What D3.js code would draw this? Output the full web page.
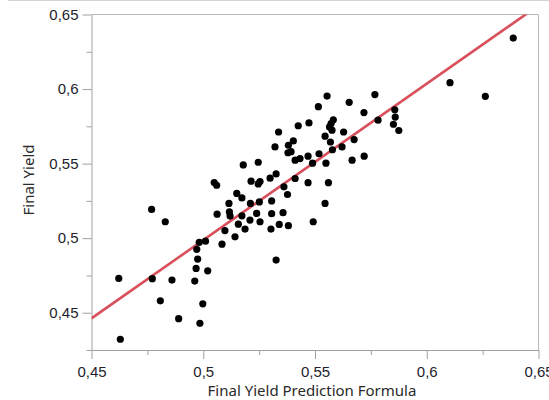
<!DOCTYPE html>
<html>
<head>
<meta charset="utf-8">
<script src="https://cdn.jsdelivr.net/npm/d3@7"></script>
<style>
  body { margin: 0; background: #fff; }
  svg { display: block; font-family: "Noto Sans", "Open Sans", sans-serif; }
</style>
</head>
<body>
<div id="chart"></div>
<script>
var predicted = [0.4629, 0.4622, 0.4769, 0.4830, 0.4772, 0.4808, 0.4860, 0.4890, 0.4962, 0.4985,
  0.4998, 0.4968, 0.5020, 0.4975, 0.4971, 0.4982, 0.5010, 0.5084, 0.5097, 0.5062,
  0.5115, 0.5117, 0.5120, 0.5049, 0.5060, 0.5150, 0.5173, 0.5179, 0.5246, 0.5214,
  0.5246, 0.5254, 0.5299, 0.5326, 0.5211, 0.5251, 0.5306, 0.5173, 0.5239, 0.5306,
  0.5357, 0.5209, 0.5254, 0.5157, 0.5187, 0.5303, 0.5340, 0.5381, 0.5142, 0.5326,
  0.5379, 0.5393, 0.5381, 0.5403, 0.5411, 0.5433, 0.5361, 0.5377, 0.5337, 0.5321,
  0.5425, 0.5473, 0.5515, 0.5554, 0.5653, 0.5768, 0.5719, 0.5582, 0.5572, 0.5565,
  0.5576, 0.5545, 0.5628, 0.5569, 0.5675, 0.5621, 0.5578, 0.5469, 0.5518, 0.5489,
  0.5549, 0.5666, 0.5720, 0.5411, 0.5469, 0.5560, 0.5545, 0.5492, 0.5782, 0.5857,
  0.5859, 0.5851, 0.5875, 0.6104, 0.6262, 0.6387];
var finalYield = [0.4322, 0.4730, 0.5193, 0.5110, 0.4728, 0.4580, 0.4719, 0.4460, 0.4712, 0.4429,
  0.4560, 0.4797, 0.4781, 0.4860, 0.4925, 0.4972, 0.4980, 0.4960, 0.5051, 0.5161,
  0.5233, 0.5176, 0.5148, 0.5373, 0.5355, 0.5300, 0.5270, 0.5491, 0.5509, 0.5382,
  0.5364, 0.5380, 0.5402, 0.5431, 0.5233, 0.5243, 0.5250, 0.5150, 0.5166, 0.5164,
  0.5171, 0.5121, 0.5110, 0.5094, 0.5061, 0.5061, 0.5092, 0.5084, 0.5009, 0.4853,
  0.5573, 0.5580, 0.5623, 0.5652, 0.5523, 0.5534, 0.5344, 0.5293, 0.5712, 0.5612,
  0.5754, 0.5773, 0.5882, 0.5953, 0.5911, 0.5963, 0.5842, 0.5794, 0.5769, 0.5746,
  0.5724, 0.5684, 0.5712, 0.5645, 0.5661, 0.5612, 0.5593, 0.5550, 0.5566, 0.5503,
  0.5503, 0.5523, 0.5550, 0.5400, 0.5372, 0.5372, 0.5233, 0.5110, 0.5791, 0.5861,
  0.5812, 0.5764, 0.5722, 0.6043, 0.5951, 0.6342];

// fitted line: slope / intercept
var fitSlope = 1.049;
var fitIntercept = -0.0258;

var xTicks = [0.45, 0.5, 0.55, 0.6, 0.65];
var xMinorTicks = [0.475, 0.525, 0.575, 0.625];
var yTicks = [0.45, 0.5, 0.55, 0.6, 0.65];
var yMinorTicks = [0.425, 0.475, 0.525, 0.575, 0.625];

var xTitle = "Final Yield Prediction Formula";
var yTitle = "Final Yield";

var W = 549, H = 400;
var margin = { top: 14.5, right: 10.5, bottom: 50, left: 91.5 };
var width = W - margin.left - margin.right,
    height = H - margin.top - margin.bottom;

var locale = d3.formatLocale({ decimal: ",", thousands: ".", grouping: [3], currency: ["", ""] });
var fmt = locale.format(".2~f");

var svg = d3.select("#chart").append("svg")
  .attr("width", W)
  .attr("height", H);

// thin window line at the very top
svg.append("line")
  .attr("x1", 8).attr("x2", W).attr("y1", 0.5).attr("y2", 0.5)
  .attr("stroke", "#d4d4d4");

var g = svg.append("g")
  .attr("transform", "translate(" + margin.left + "," + margin.top + ")");

var x = d3.scaleLinear().domain([0.45, 0.65]).range([0, width]);
var y = d3.scaleLinear().domain([0.425, 0.65]).range([height, 0]);

g.append("defs").append("clipPath").attr("id", "clip")
  .append("rect").attr("width", width).attr("height", height);

// frame top/right
g.append("path")
  .attr("d", "M0,0H" + width + "V" + height)
  .attr("fill", "none")
  .attr("stroke", "#b8b8b8");

// minor ticks
g.append("g")
  .attr("transform", "translate(0," + height + ")")
  .call(d3.axisBottom(x).tickValues(xMinorTicks).tickSize(5).tickFormat(""))
  .call(s => s.select(".domain").remove());
g.append("g")
  .call(d3.axisLeft(y).tickValues(yMinorTicks).tickSize(5).tickFormat(""))
  .call(s => s.select(".domain").remove());

// major axes
var xAxis = g.append("g")
  .attr("transform", "translate(0," + height + ")")
  .call(d3.axisBottom(x).tickValues(xTicks).tickSize(9).tickSizeOuter(0).tickPadding(4).tickFormat(fmt));
var yAxis = g.append("g")
  .call(d3.axisLeft(y).tickValues(yTicks).tickSize(9).tickSizeOuter(0).tickPadding(4).tickFormat(fmt));

g.selectAll(".tick line, .domain").attr("stroke", "#a0a0a0");
g.selectAll(".tick text")
  .attr("fill", "#1e1e2c")
  .style("font-size", "15px");
xAxis.selectAll(".tick text").attr("dy", "0.95em");

// fit line
var x0 = 0.45, x1 = 0.65;
g.append("line")
  .attr("clip-path", "url(#clip)")
  .attr("x1", x(x0)).attr("y1", y(fitIntercept + fitSlope * x0))
  .attr("x2", x(x1)).attr("y2", y(fitIntercept + fitSlope * x1))
  .attr("stroke", "#d9505c")
  .attr("stroke-width", 2.6);

// points
g.selectAll("circle.pt")
  .data(d3.range(predicted.length))
  .join("circle")
  .attr("class", "pt")
  .attr("cx", i => x(predicted[i]))
  .attr("cy", i => y(finalYield[i]))
  .attr("r", 3.6)
  .attr("fill", "#000");

// axis titles
svg.append("text")
  .attr("x", 312)
  .attr("y", 396)
  .attr("text-anchor", "middle")
  .attr("fill", "#2a2a2a")
  .style("font-size", "15px")
  .text(xTitle);

svg.append("text")
  .attr("transform", "translate(34,180) rotate(-90)")
  .attr("text-anchor", "middle")
  .attr("fill", "#2a2a2a")
  .style("font-size", "15px")
  .text(yTitle);
</script>
</body>
</html>
